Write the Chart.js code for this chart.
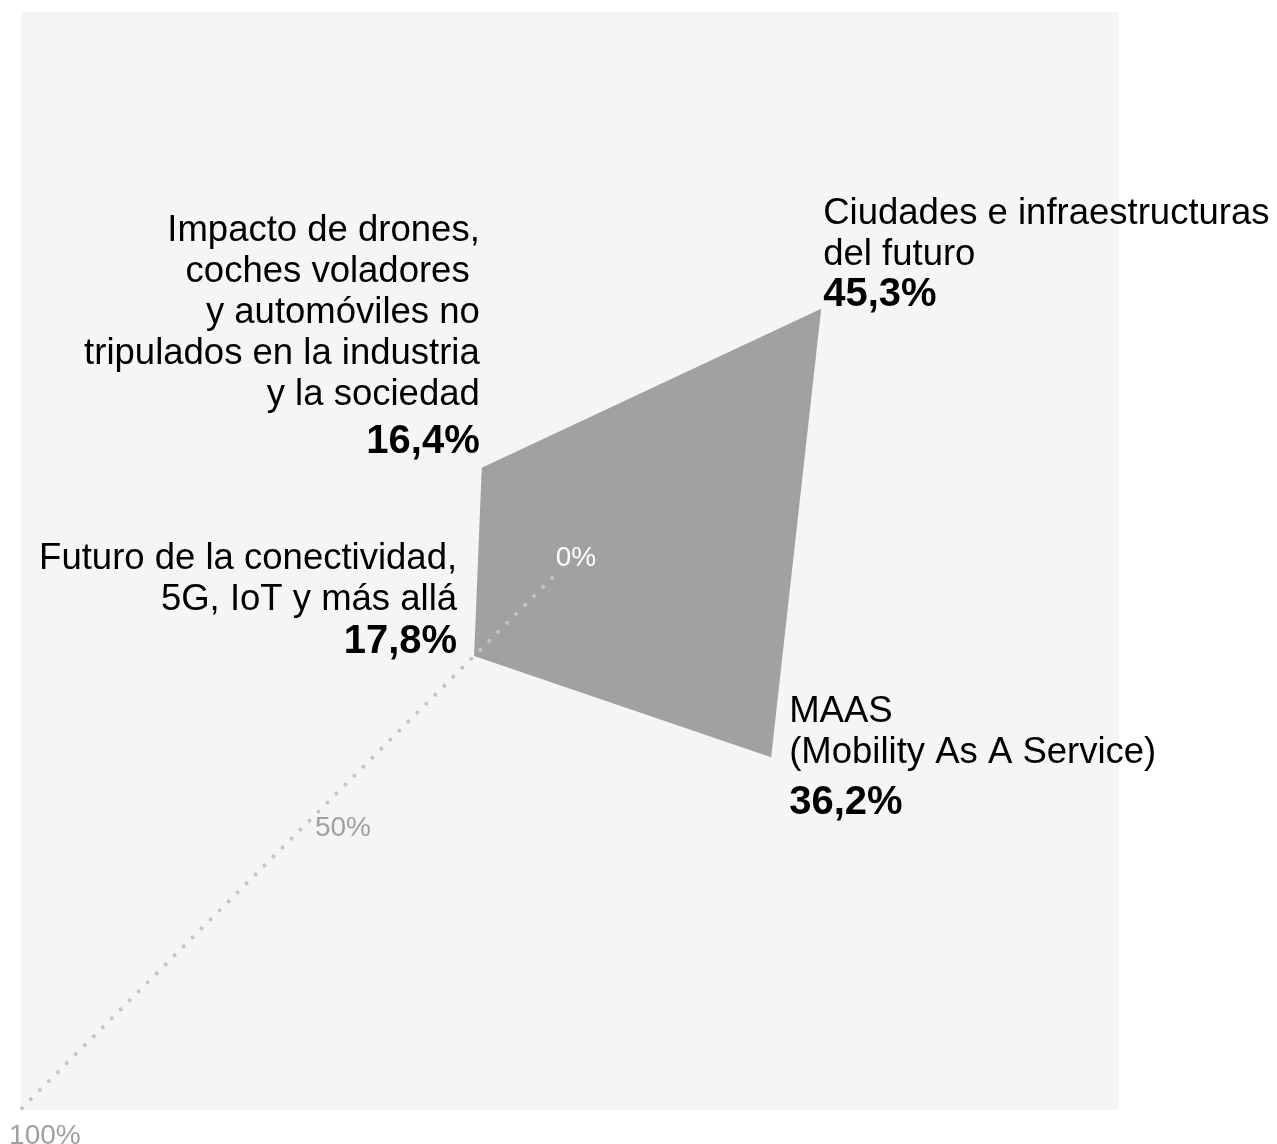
<!DOCTYPE html>
<html lang="es">
<head>
<meta charset="utf-8">
<title>Áreas de interés</title>
<script src="https://cdn.jsdelivr.net/npm/chart.js@4/dist/chart.umd.min.js"></script>
<style>
  html, body { margin:0; padding:0; background:#fff; }
  #wrap { position:relative; width:1277px; height:1144px; }
  #panel { position:absolute; left:21px; top:12px; width:1098px; height:1098px; background:#f5f5f5; }
  #chart { position:absolute; left:0; top:0; }
</style>
</head>
<body>
<div id="wrap">
  <div id="panel"></div>
  <canvas id="chart" width="1277" height="1144"></canvas>
</div>
<script>
// categorias en el orden del radar (sentido horario, empezando arriba a la derecha)
const categories = [
  ['Ciudades e infraestructuras', 'del futuro'],
  ['MAAS', '(Mobility As A Service)'],
  ['Futuro de la conectividad,', '5G, IoT y más allá'],
  ['Impacto de drones,', 'coches voladores ', 'y automóviles no', 'tripulados en la industria', 'y la sociedad']
];
const values = [45.3, 36.2, 17.8, 16.4];
const tickValues = [0, 50, 100];
const tickText = ['0%', '50%', '100%'];

// colocacion de cada etiqueta respecto a su vertice
const labelPlacement = [
  { align:'left',  dx:2,   dy:-3,  gap:41 },
  { align:'left',  dx:18,  dy:57,  gap:51 },
  { align:'right', dx:-17, dy:-3,  gap:43 },
  { align:'right', dx:-2,  dy:-15, gap:48 }
];
// posicion de las etiquetas del eje respecto al punto del valor
const tickPlacement = [
  { dx:4,  dy:0,  color:'#ffffff' },
  { dx:46, dy:-5, color:'#a0a0a0' },
  { dx:23, dy:28, color:'#a0a0a0' }
];
const axisIndex = 2;
const FONT = '"Liberation Sans", Arial, sans-serif';

const fmt = v => v.toFixed(1).replace('.', ',') + '%';

const annotate = {
  id:'annotate',
  afterDatasetsDraw(chart){
    const ctx = chart.ctx;
    const r = chart.scales.r;
    ctx.save();

    // eje punteado
    const outer = r.getPointPositionForValue(axisIndex, 100);
    const inner = r.getPointPositionForValue(axisIndex, 3.3);
    ctx.strokeStyle = '#c4c4c4';
    ctx.lineWidth = 4;
    ctx.lineCap = 'round';
    ctx.setLineDash([0.01, 12.7]);
    ctx.beginPath();
    ctx.moveTo(outer.x, outer.y);
    ctx.lineTo(inner.x, inner.y);
    ctx.stroke();
    ctx.setLineDash([]);

    // etiquetas del eje
    ctx.font = '28px ' + FONT;
    ctx.textAlign = 'center';
    ctx.textBaseline = 'middle';
    tickValues.forEach((v, i) => {
      const p = r.getPointPositionForValue(axisIndex, v);
      const t = tickPlacement[i];
      ctx.fillStyle = t.color;
      ctx.fillText(tickText[i], p.x + t.dx, p.y + t.dy);
    });

    // nombres y porcentajes junto a cada vertice
    const meta = chart.getDatasetMeta(0);
    ctx.textBaseline = 'alphabetic';
    ctx.fillStyle = '#000';
    meta.data.forEach((pt, i) => {
      const pl = labelPlacement[i];
      const x = pt.x + pl.dx;
      const base = pt.y + pl.dy;
      const lines = categories[i];
      ctx.textAlign = pl.align;
      ctx.font = 'bold 40px ' + FONT;
      ctx.fillText(fmt(values[i]), x, base);
      ctx.font = '36.5px ' + FONT;
      lines.forEach((ln, j) => {
        const y = base - pl.gap - (lines.length - 1 - j) * 41;
        ctx.fillText(ln, x, y);
      });
    });
    ctx.restore();
  }
};

new Chart(document.getElementById('chart').getContext('2d'), {
  type:'radar',
  data:{
    labels:categories,
    datasets:[{
      data:values,
      backgroundColor:'#a1a1a1',
      borderWidth:0,
      pointRadius:0,
      fill:true,
      clip:false
    }]
  },
  options:{
    responsive:false,
    animation:false,
    layout:{ padding:{ left:0, top:0, right:133, bottom:28 } },
    plugins:{ legend:{ display:false }, tooltip:{ enabled:false } },
    scales:{
      r:{
        min:0, max:100,
        startAngle:45,
        ticks:{ display:false },
        grid:{ display:false },
        angleLines:{ display:false },
        pointLabels:{ display:false },
        afterFit:s => { s.drawingArea = 778; }
      }
    }
  },
  plugins:[annotate]
});
</script>
</body>
</html>
